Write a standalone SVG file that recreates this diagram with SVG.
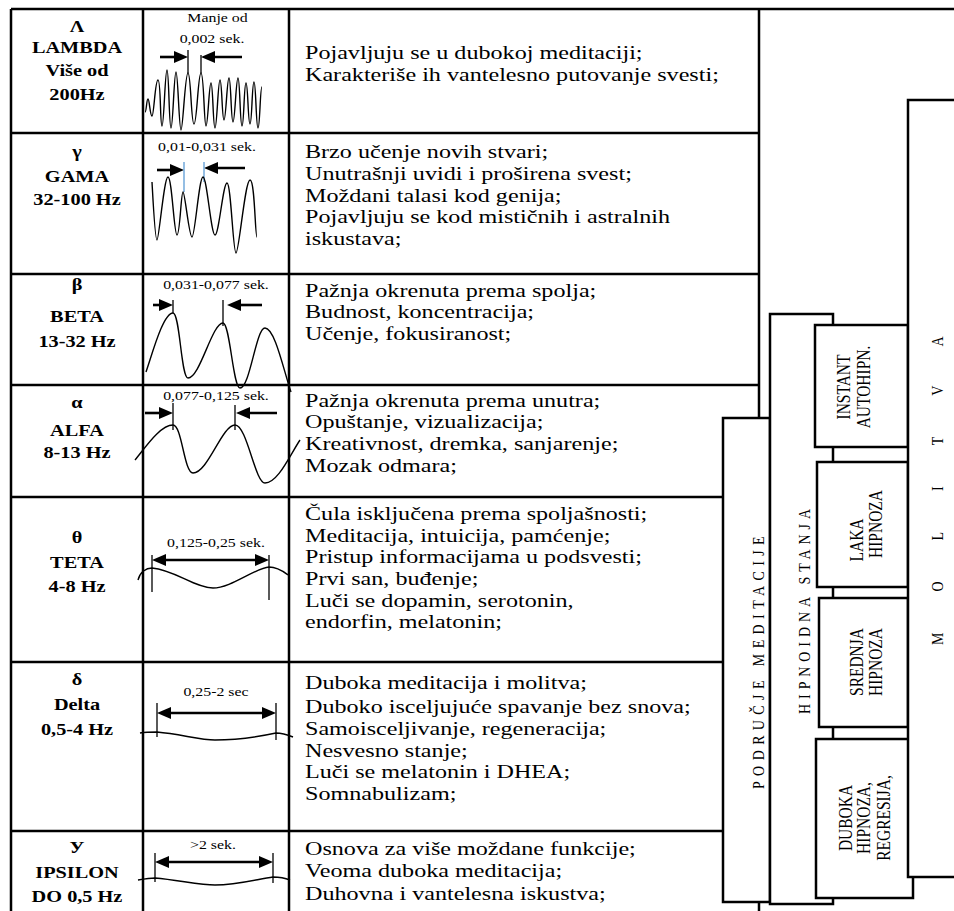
<svg xmlns="http://www.w3.org/2000/svg" width="954" height="911" viewBox="0 0 954 911">
<defs>
<style>
.ln{stroke:#000;stroke-width:2.5;fill:none}
.bx{stroke:#000;stroke-width:2.5;fill:#fff}
.wv{stroke:#000;stroke-width:1.4;fill:none}
.tk{stroke:#000;stroke-width:1.3}
.tkb{stroke:#5b9bd5;stroke-width:1.3}
.ar{stroke:#000;stroke-width:2.6;fill:none}
.hd{font-family:"Liberation Serif","Times New Roman",serif;font-weight:bold;font-size:16px;text-anchor:middle;fill:#000}
.tx{font-family:"Liberation Serif","Times New Roman",serif;font-size:19px;fill:#000}
.lb{font-family:"Liberation Serif","Times New Roman",serif;font-size:12.5px;text-anchor:middle;fill:#000}
.rt{font-family:"Liberation Serif","Times New Roman",serif;font-size:15.5px;text-anchor:middle;fill:#000}
.vt{font-family:"Liberation Serif","Times New Roman",serif;font-size:14px;fill:#000}
</style>
<marker id="ah" viewBox="0 0 14 12" refX="8" refY="6" markerWidth="14" markerHeight="12" markerUnits="userSpaceOnUse" orient="auto-start-reverse"><path d="M0,0 L14,6 L0,12 z" fill="#000"/></marker>
</defs>
<rect x="0" y="0" width="954" height="911" fill="#fff"/>

<g id="table-lines">
<line class="ln" x1="11" y1="9" x2="954" y2="9"/>
<line class="ln" x1="11" y1="9" x2="11" y2="911"/>
<line class="ln" x1="143" y1="9" x2="143" y2="911"/>
<line class="ln" x1="289" y1="9" x2="289" y2="911"/>
<line class="ln" x1="759" y1="9" x2="759" y2="418"/>
<line class="ln" x1="759" y1="902" x2="759" y2="911"/>
<line class="ln" x1="11" y1="133" x2="759" y2="133"/>
<line class="ln" x1="11" y1="274" x2="759" y2="274"/>
<line class="ln" x1="11" y1="385" x2="759" y2="385"/>
<line class="ln" x1="11" y1="497" x2="723" y2="497"/>
<line class="ln" x1="11" y1="662" x2="723" y2="662"/>
<line class="ln" x1="11" y1="831" x2="723" y2="831"/>
</g>

<g id="row-lambda">
<text class="hd" transform="scale(1.27,1)"><tspan x="60.63" y="32">Λ</tspan><tspan x="60.63" y="53">LAMBDA</tspan><tspan x="60.63" y="76">Više od</tspan><tspan x="60.63" y="100">200Hz</tspan></text>
<text class="lb" transform="scale(1.27,1)"><tspan x="171.26" y="22">Manje od</tspan><tspan x="166.93" y="43">0,002 sek.</tspan></text>
<line class="ar" x1="160" y1="57" x2="182" y2="57" marker-end="url(#ah)"/>
<line class="ar" x1="242" y1="57" x2="207" y2="57" marker-end="url(#ah)"/>
<line class="tk" x1="188" y1="50" x2="188" y2="73"/>
<line class="tk" x1="201" y1="55" x2="201" y2="73"/>
<path class="wv" d="M145,112 C146.5,112 146.5,99 148,99 S150,116 152,116 S155,80 158,80 S160,126 162,126 S165,70 167,70 S169,128 171,128 S174,72 176,72 S179,130 181,130 S185,73 188,73 S191,124 194,124 S198,73 201,73 S204,126 206,126 S209,83 211,83 S213,128 215,128 S218,80 220,80 S222,120 224,120 S227,78 229,78 S231,122 233,122 S236,78 238,78 S240,126 242,126 S244,83 246,83 S248,124 250,124 S252,82 254,82 S256,128 258,128 S260,87 262,87"/>
<text class="tx" transform="scale(1.27,1)"><tspan x="240.16" y="59">Pojavljuju se u dubokoj meditaciji;</tspan><tspan x="240.16" y="81">Karakteriše ih vantelesno putovanje svesti;</tspan></text>
</g>

<g id="row-gama">
<text class="hd" transform="scale(1.27,1)"><tspan x="60.63" y="157">γ</tspan><tspan x="60.63" y="182">GAMA</tspan><tspan x="60.63" y="205">32-100 Hz</tspan></text>
<text class="lb" transform="scale(1.27,1)" x="163" y="151">0,01-0,031 sek.</text>
<line class="ar" x1="157" y1="170" x2="178" y2="170" marker-end="url(#ah)"/>
<line class="ar" x1="245" y1="168" x2="210" y2="168" marker-end="url(#ah)"/>
<line class="tkb" x1="184" y1="162" x2="184" y2="192"/>
<line class="tkb" x1="204" y1="162" x2="204" y2="182"/>
<path class="wv" d="M152,182 C153,200 155,240 157,240 S164,177 168,177 S174,235 177,235 S181,192 183,192 S189,237 192,237 S199,177 203,177 S211,235 215,235 S223,183 227,183 S233,253 236,253 S245,180 250,180 S255,237 257,237"/>
<text class="tx" transform="scale(1.27,1)"><tspan x="240.16" y="158">Brzo učenje novih stvari;</tspan><tspan x="240.16" y="180">Unutrašnji uvidi i proširena svest;</tspan><tspan x="240.16" y="202">Moždani talasi kod genija;</tspan><tspan x="240.16" y="223">Pojavljuju se kod mističnih i astralnih</tspan><tspan x="240.16" y="245">iskustava;</tspan></text>
</g>

<g id="row-beta">
<text class="hd" transform="scale(1.27,1)"><tspan x="60.63" y="290">β</tspan><tspan x="60.63" y="322">BETA</tspan><tspan x="60.63" y="347">13-32 Hz</tspan></text>
<text class="lb" transform="scale(1.27,1)" x="170.08" y="289">0,031-0,077 sek.</text>
<line class="ar" x1="153" y1="305" x2="167" y2="305" marker-end="url(#ah)"/>
<line class="ar" x1="262" y1="305" x2="233" y2="305" marker-end="url(#ah)"/>
<line class="tk" x1="173" y1="300" x2="173" y2="313"/>
<line class="tk" x1="223" y1="300" x2="223" y2="326"/>
<path class="wv" d="M146,372 C152,355 163,313 173,313 C180,313 181,378 188,378 C200,378 212,323 223,323 C230,323 233,388 240,388 C250,388 256,328 265,328 C275,328 284,372 291,392"/>
<text class="tx" transform="scale(1.27,1)"><tspan x="240.16" y="297">Pažnja okrenuta prema spolja;</tspan><tspan x="240.16" y="318">Budnost, koncentracija;</tspan><tspan x="240.16" y="340">Učenje, fokusiranost;</tspan></text>
</g>

<g id="row-alfa">
<text class="hd" transform="scale(1.27,1)"><tspan x="60.63" y="408">α</tspan><tspan x="60.63" y="436">ALFA</tspan><tspan x="60.63" y="458">8-13 Hz</tspan></text>
<text class="lb" transform="scale(1.27,1)" x="170.08" y="400">0,077-0,125 sek.</text>
<line class="ar" x1="145" y1="413" x2="167" y2="413" marker-end="url(#ah)"/>
<line class="ar" x1="277" y1="413" x2="242" y2="413" marker-end="url(#ah)"/>
<line class="tk" x1="173" y1="403" x2="173" y2="430"/>
<line class="tk" x1="235" y1="405" x2="235" y2="430"/>
<path class="wv" d="M135,460 C145,448 160,425 173,425 C182,425 184,473 193,473 C208,473 222,425 235,425 C247,425 255,483 265,483 C278,483 290,455 300,440"/>
<text class="tx" transform="scale(1.27,1)"><tspan x="240.16" y="407">Pažnja okrenuta prema unutra;</tspan><tspan x="240.16" y="428">Opuštanje, vizualizacija;</tspan><tspan x="240.16" y="450">Kreativnost, dremka, sanjarenje;</tspan><tspan x="240.16" y="472">Mozak odmara;</tspan></text>
</g>

<g id="row-teta">
<text class="hd" transform="scale(1.27,1)"><tspan x="60.63" y="543">θ</tspan><tspan x="60.63" y="568">TETA</tspan><tspan x="60.63" y="592">4-8 Hz</tspan></text>
<text class="lb" transform="scale(1.27,1)" x="170.08" y="547">0,125-0,25 sek.</text>
<line class="ar" x1="158" y1="560" x2="263" y2="560" marker-start="url(#ah)" marker-end="url(#ah)"/>
<line class="tk" x1="152" y1="555" x2="152" y2="592"/>
<line class="tk" x1="269" y1="555" x2="269" y2="600"/>
<path class="wv" d="M138,580 C140,572 146,568 152,568 C175,570 195,588 213,588 S255,568 269,567 C278,567 284,572 288,575"/>
<text class="tx" transform="scale(1.27,1)"><tspan x="240.16" y="520">Čula isključena prema spoljašnosti;</tspan><tspan x="240.16" y="542">Meditacija, intuicija, pamćenje;</tspan><tspan x="240.16" y="563">Pristup informacijama u podsvesti;</tspan><tspan x="240.16" y="585">Prvi san, buđenje;</tspan><tspan x="240.16" y="607">Luči se dopamin, serotonin,</tspan><tspan x="240.16" y="628">endorfin, melatonin;</tspan></text>
</g>

<g id="row-delta">
<text class="hd" transform="scale(1.27,1)"><tspan x="60.63" y="685">δ</tspan><tspan x="60.63" y="710">Delta</tspan><tspan x="60.63" y="735">0,5-4 Hz</tspan></text>
<text class="lb" transform="scale(1.27,1)" x="170.08" y="696">0,25-2 sec</text>
<line class="ar" x1="163" y1="713" x2="270" y2="713" marker-start="url(#ah)" marker-end="url(#ah)"/>
<line class="tk" x1="157" y1="703" x2="157" y2="737"/>
<line class="tk" x1="276" y1="703" x2="276" y2="740"/>
<path class="wv" d="M140,733 C146,732 152,732 157,732 C180,734 200,740 215,740 C240,740 262,736 276,733 C282,733 288,735 293,737"/>
<text class="tx" transform="scale(1.27,1)"><tspan x="240.16" y="689">Duboka meditacija i molitva;</tspan><tspan x="240.16" y="713">Duboko isceljujuće spavanje bez snova;</tspan><tspan x="240.16" y="735">Samoisceljivanje, regeneracija;</tspan><tspan x="240.16" y="757">Nesvesno stanje;</tspan><tspan x="240.16" y="778">Luči se melatonin i DHEA;</tspan><tspan x="240.16" y="800">Somnabulizam;</tspan></text>
</g>

<g id="row-ipsilon">
<text class="hd" transform="scale(1.27,1)"><tspan x="60.63" y="853">У</tspan><tspan x="60.63" y="878">IPSILON</tspan><tspan x="60.63" y="902">DO 0,5 Hz</tspan></text>
<text class="lb" transform="scale(1.27,1)" x="167.72" y="849">&gt;2 sek.</text>
<line class="ar" x1="161" y1="862" x2="267" y2="862" marker-start="url(#ah)" marker-end="url(#ah)"/>
<line class="tk" x1="155" y1="853" x2="155" y2="882"/>
<line class="tk" x1="273" y1="853" x2="273" y2="883"/>
<path class="wv" d="M138,880 C144,879 150,878 155,878 C178,880 200,885 215,885 C238,885 258,879 273,877 C280,877 285,878 290,880"/>
<text class="tx" transform="scale(1.27,1)"><tspan x="240.16" y="855">Osnova za više moždane funkcije;</tspan><tspan x="240.16" y="877">Veoma duboka meditacija;</tspan><tspan x="240.16" y="900">Duhovna i vantelesna iskustva;</tspan></text>
</g>

<g id="podrucje-meditacije">
<rect class="bx" x="723" y="418" width="47" height="484"/>
<text class="vt" text-anchor="middle" letter-spacing="5.4" transform="translate(764,660) scale(1.15,1) rotate(-90)">PODRUČJE MEDITACIJE</text>
</g>

<g id="hipnoidna-stanja">
<rect class="bx" x="770" y="314" width="63" height="590"/>
<text class="vt" text-anchor="middle" letter-spacing="4.9" transform="translate(810,609) scale(1.15,1) rotate(-90)">HIPNOIDNA STANJA</text>
</g>

<g id="instant-autohipnoza">
<rect class="bx" x="815" y="325" width="93" height="122"/>
<text class="rt" transform="translate(850,387) scale(1.15,1) rotate(-90)"><tspan x="0" y="0">INSTANT</tspan><tspan x="0" y="17.4">AUTOHIPN.</tspan></text>
</g>

<g id="laka-hipnoza">
<rect class="bx" x="817" y="462" width="91" height="125"/>
<text class="rt" transform="translate(863,532) scale(1.15,1) rotate(-90)"><tspan x="-8" y="0">LAKA</tspan><tspan x="8" y="16.5">HIPNOZA</tspan></text>
</g>

<g id="srednja-hipnoza">
<rect class="bx" x="819" y="598" width="89" height="129"/>
<text class="rt" transform="translate(863,662) scale(1.15,1) rotate(-90)"><tspan x="0" y="0">SREDNJA</tspan><tspan x="0" y="16.5">HIPNOZA</tspan></text>
</g>

<g id="duboka-hipnoza">
<rect class="bx" x="816" y="739" width="97" height="159"/>
<text class="rt" transform="translate(852,818) scale(1.15,1) rotate(-90)"><tspan x="0" y="0">DUBOKA</tspan><tspan x="0" y="15.7">HIPNOZA,</tspan><tspan x="0" y="33">REGRESIJA,</tspan></text>
</g>

<g id="molitva">
<rect class="bx" x="908" y="100" width="60" height="777"/>
<text class="vt" letter-spacing="41" transform="translate(943,645) scale(1.15,1) rotate(-90)">MOLITVA</text>
</g>
</svg>
